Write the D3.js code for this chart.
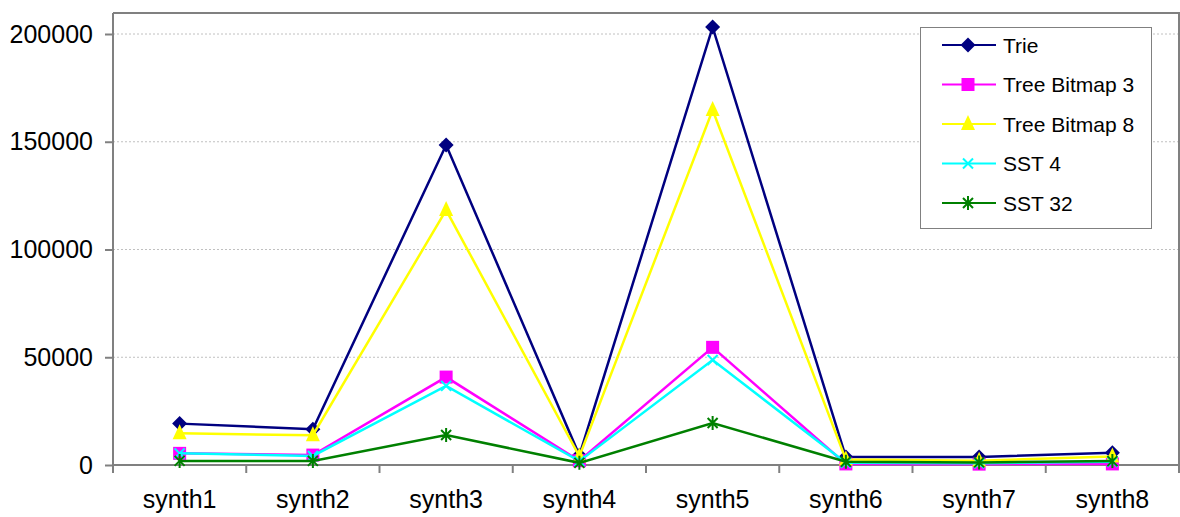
<!DOCTYPE html>
<html>
<head>
<meta charset="utf-8">
<script src="https://cdn.jsdelivr.net/npm/d3@7"></script>
<style>
  body { margin: 0; background: #fff; }
  text { font-family: "Liberation Sans", Arial, sans-serif; }
</style>
</head>
<body>
<script>
var categories = ["synth1", "synth2", "synth3", "synth4", "synth5", "synth6", "synth7", "synth8"];
var trie = [19200, 16600, 148500, 4500, 203200, 3700, 3700, 5700];
var treeBitmap3 = [5400, 4600, 40800, 2000, 54600, 500, 400, 500];
var treeBitmap8 = [14700, 13800, 118300, 4000, 164700, 2500, 2000, 4000];
var sst4 = [5400, 4200, 36700, 1800, 48700, 1000, 800, 1500];
var sst32 = [1900, 1900, 13900, 1000, 19500, 1500, 1200, 1800];
var yTicks = [0, 50000, 100000, 150000, 200000];

var series = [
  { name: "Trie", values: trie, color: "#000080", marker: "diamond" },
  { name: "Tree Bitmap 3", values: treeBitmap3, color: "#ff00ff", marker: "square" },
  { name: "Tree Bitmap 8", values: treeBitmap8, color: "#ffff00", marker: "triangle" },
  { name: "SST 4", values: sst4, color: "#00ffff", marker: "x" },
  { name: "SST 32", values: sst32, color: "#008000", marker: "star" }
];

var width = 1180,
    height = 517;

var svg = d3.select("body")
  .append("svg")
  .attr("width", width)
  .attr("height", height);

var x = d3.scaleBand()
    .domain(categories)
    .range([113, 1179]);

var y = d3.scaleLinear()
    .domain([0, 200000])
    .range([465, 34]);

var plotTop = y(209750);

// gridlines
svg.append("g")
  .selectAll("line")
  .data(yTicks.slice(1))
  .enter().append("line")
    .attr("x1", x.range()[0])
    .attr("x2", x.range()[1])
    .attr("y1", function(d) { return y(d); })
    .attr("y2", function(d) { return y(d); })
    .attr("stroke", "#c0c0c0")
    .attr("stroke-width", 1)
    .attr("stroke-dasharray", "2,2");

// frame top/right
svg.append("path")
    .attr("d", "M" + x.range()[0] + "," + plotTop + "H" + x.range()[1] + "V" + y(0))
    .attr("fill", "none")
    .attr("stroke", "#808080")
    .attr("stroke-width", 2);

// y axis
var yAxis = svg.append("g")
    .attr("transform", "translate(" + x.range()[0] + ",0)")
    .call(d3.axisLeft(y).tickValues(yTicks).tickSize(8).tickPadding(12).tickFormat(d3.format("d")));
yAxis.select(".domain").attr("d", "M0," + plotTop + "V" + y(0));
yAxis.selectAll("line, .domain").attr("stroke", "#808080").attr("stroke-width", 2);
yAxis.selectAll("text").attr("font-size", 25).attr("fill", "#000")
    .attr("font-family", "'Liberation Sans', Arial, sans-serif");

// x axis
var boundaries = categories.map(function(c) { return x(c); }).concat([x.range()[1]]);
var xg = svg.append("g");
xg.append("line")
    .attr("x1", x.range()[0]).attr("x2", x.range()[1])
    .attr("y1", y(0)).attr("y2", y(0))
    .attr("stroke", "#808080").attr("stroke-width", 2);
xg.selectAll(".tk")
  .data(boundaries)
  .enter().append("line")
    .attr("class", "tk")
    .attr("x1", function(d) { return d; }).attr("x2", function(d) { return d; })
    .attr("y1", y(0)).attr("y2", y(0) + 8)
    .attr("stroke", "#808080").attr("stroke-width", 2);
xg.selectAll("text")
  .data(categories)
  .enter().append("text")
    .attr("x", function(d) { return x(d) + x.bandwidth() / 2; })
    .attr("y", 508)
    .attr("text-anchor", "middle")
    .attr("font-size", 25)
    .text(function(d) { return d; });

function drawMarker(g, type, color) {
  if (type === "diamond") {
    g.append("path").attr("d", "M0,-7.5L7.5,0L0,7.5L-7.5,0Z").attr("fill", color);
  } else if (type === "square") {
    g.append("rect").attr("x", -6.5).attr("y", -6.5).attr("width", 13).attr("height", 13).attr("fill", color);
  } else if (type === "triangle") {
    g.append("path").attr("d", "M0,-9L7,6L-7,6Z").attr("fill", color);
  } else if (type === "x") {
    g.append("path").attr("d", "M-5,-5L5,5M-5,5L5,-5").attr("stroke", color).attr("stroke-width", 2);
  } else if (type === "star") {
    g.append("path").attr("d", "M-5,-5L5,5M-5,5L5,-5M0,-7V7").attr("stroke", color).attr("stroke-width", 2);
  }
}

var line = d3.line()
    .x(function(d, i) { return x(categories[i]) + x.bandwidth() / 2; })
    .y(function(d) { return y(d); });

series.forEach(function(s) {
  var g = svg.append("g");
  g.append("path")
      .datum(s.values)
      .attr("d", line)
      .attr("fill", "none")
      .attr("stroke", s.color)
      .attr("stroke-width", 2.5);
  s.values.forEach(function(v, i) {
    var m = g.append("g")
        .attr("transform", "translate(" + (x(categories[i]) + x.bandwidth() / 2) + "," + y(v) + ")");
    drawMarker(m, s.marker, s.color);
  });
});

// legend
var legend = svg.append("g");
legend.append("rect")
    .attr("x", 920.5).attr("y", 27.5)
    .attr("width", 231).attr("height", 201)
    .attr("fill", "#fff")
    .attr("stroke", "#808080")
    .attr("stroke-width", 1);

var rows = legend.selectAll(".row")
  .data(series)
  .enter().append("g")
    .attr("class", "row")
    .attr("transform", function(d, i) { return "translate(0," + (45 + i * 39.5) + ")"; });

rows.append("line")
    .attr("x1", 942).attr("x2", 996)
    .attr("stroke", function(d) { return d.color; })
    .attr("stroke-width", 2);
rows.each(function(d) {
  var m = d3.select(this).append("g").attr("transform", "translate(968,0)");
  drawMarker(m, d.marker, d.color);
});
rows.append("text")
    .attr("x", 1003)
    .attr("y", 7.5)
    .attr("font-size", 21)
    .text(function(d) { return d.name; });
</script>
</body>
</html>
